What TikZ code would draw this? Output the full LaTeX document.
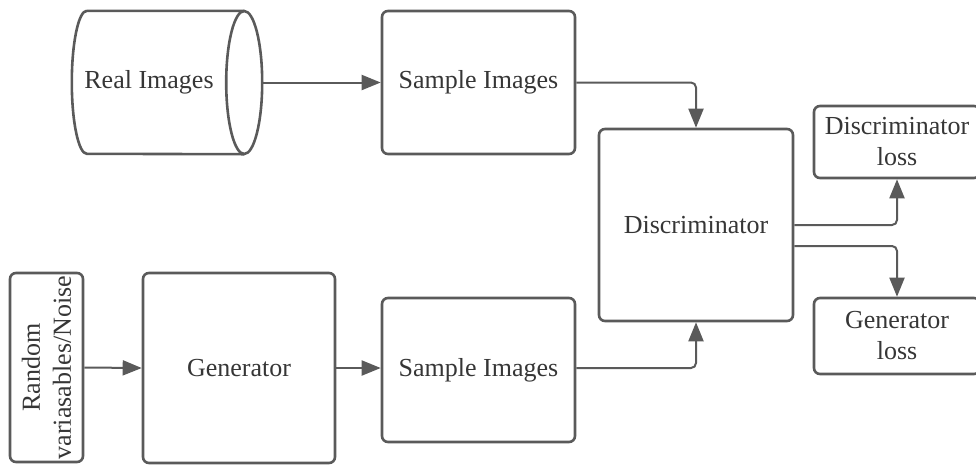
\documentclass[tikz,border=0pt]{standalone}
\usepackage{fontspec}
\setmainfont{Liberation Serif}
\usepackage{tikz}
\usetikzlibrary{arrows.meta,positioning}
\definecolor{edge}{HTML}{5A5A5A}
\definecolor{ink}{HTML}{363636}
\newcommand{\gfont}{\fontsize{26}{31}\selectfont}

\begin{document}
\begin{tikzpicture}[x=1pt,y=-1pt,font=\gfont,
  box/.style={draw=edge,line width=2.6pt,rounded corners=6pt,align=center,text=ink,inner sep=2pt},
  shell/.style={draw=edge,line width=2.6pt},
  arr/.style={draw=edge,line width=2pt,rounded corners=5pt,-{Triangle[length=19pt,width=15pt]}}]
\useasboundingbox (0,0) rectangle (976,467);
% upper row: the drum is drawn by hand round the node
\node[text=ink,minimum width=154pt,minimum height=143pt] (real) at (149,82.5) {Real Images};
\draw[shell] ([xshift=15pt]real.north west) arc[start angle=90,end angle=270,x radius=15pt,y radius=71.5pt]
  -- ([xshift=18pt]real.south east) ([xshift=18pt]real.north east) -- ([xshift=15pt]real.north west);
\draw[shell] ([xshift=18pt]real.east) ellipse [x radius=18pt,y radius=71.5pt];
\coordinate (realend) at ([xshift=36pt]real.east);
\node[box,minimum width=193pt,minimum height=143pt] (stop) at (478.5,82.5) {Sample Images};
% lower row
\node[box,rotate=90,minimum width=189pt,minimum height=73pt] (rnd) at (46.5,367.5) {Random\\variasables/Noise};
\node[box,minimum width=192pt,minimum height=190pt] (gen) at (239,368) {Generator};
\node[box,minimum width=193pt,minimum height=144pt] (sbot) at (478.5,370) {Sample Images};
% discriminator and losses
\node[box,minimum width=194pt,minimum height=192pt] (disc) at (696,225) {Discriminator};
\node[box,minimum width=166pt,minimum height=72pt] (dloss) at (897,142) {Discriminator\\loss};
\node[box,minimum width=166pt,minimum height=76pt] (gloss) at (897,336) {Generator\\loss};
% connectors
\draw[arr] (realend) -- (stop.west);
\draw[arr] (stop.east) -| (disc.north);
\draw[arr] (rnd.south) -- (gen.west);
\draw[arr] (gen.east) -- (gen.east -| sbot.west);
\draw[arr] ([yshift=2pt]sbot.east) -| (disc.south);
\draw[arr] (disc.east) -| (dloss.south);
\draw[arr] ([yshift=-21pt]disc.east) -| (gloss.north);
\end{tikzpicture}
\end{document}
